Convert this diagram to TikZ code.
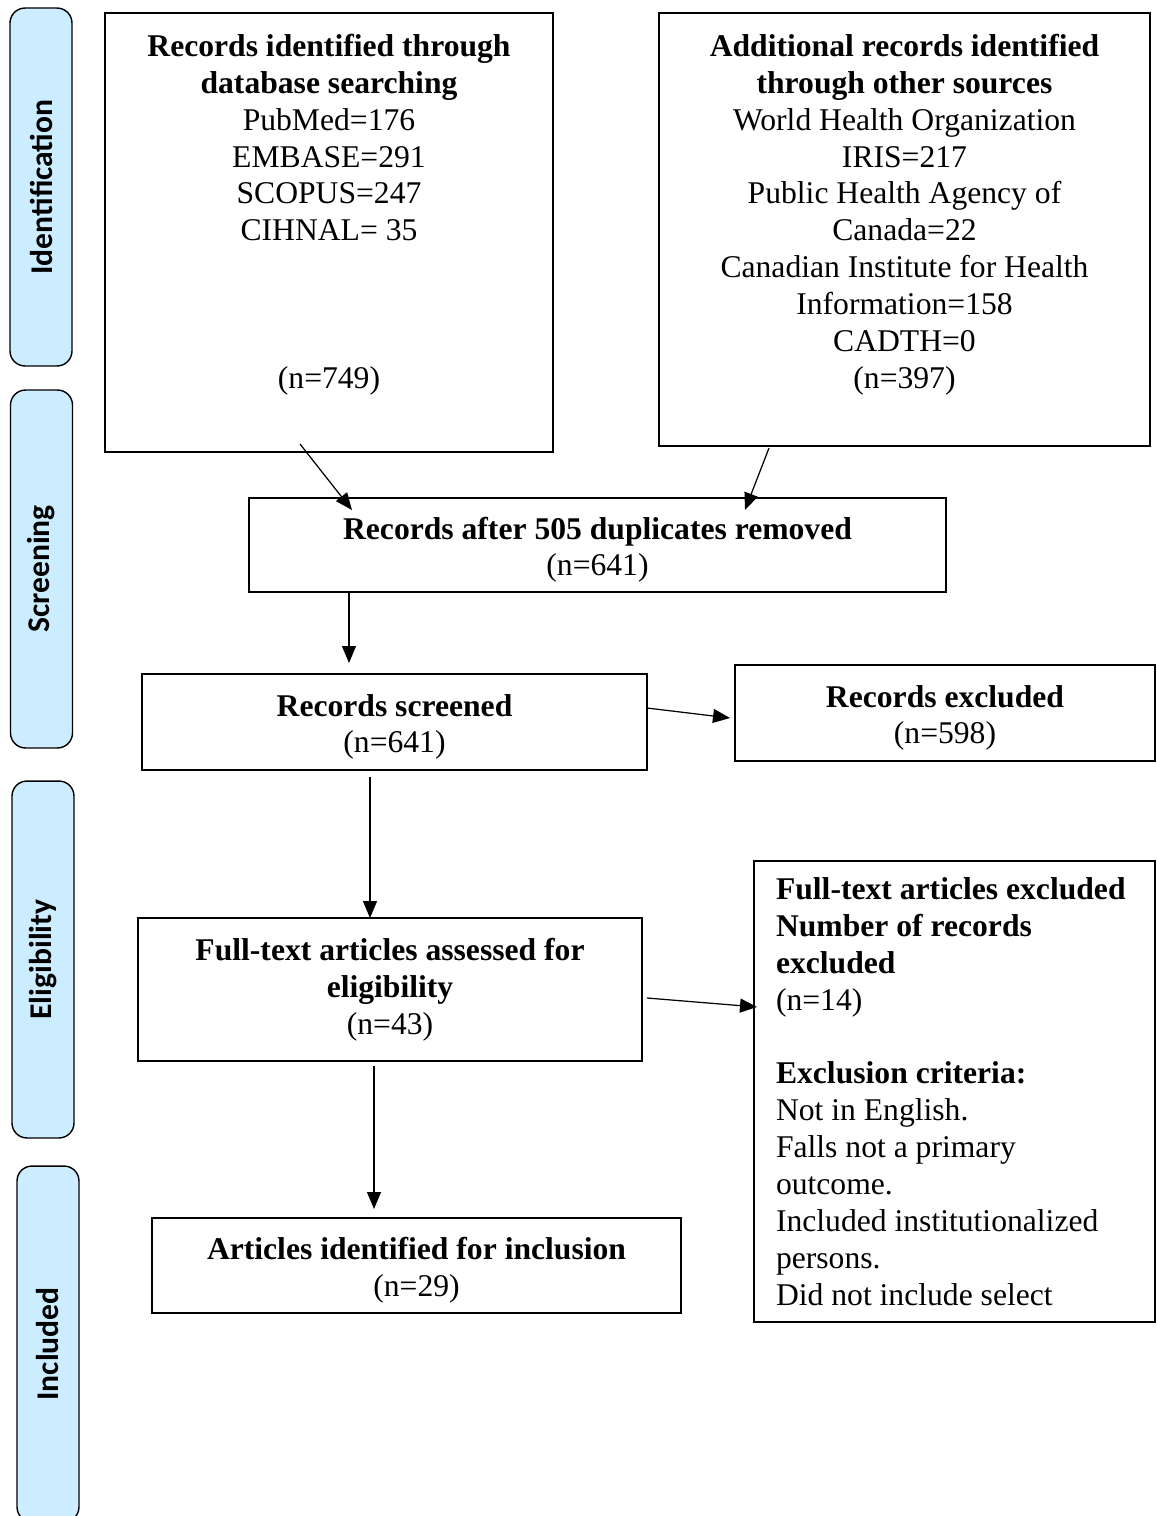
\documentclass[tikz,border=0pt]{standalone}
\usepackage{fontspec}
\setmainfont{Liberation Serif}
\newfontfamily\sidefont{Carlito}
\usetikzlibrary{arrows.meta}
\definecolor{stagefill}{RGB}{204,236,255}
\newcommand{\toprule}{\rule{0pt}{18pt}}
\tikzset{
  box/.style={draw, line width=1.3pt, inner sep=0pt, align=center},
  stage/.style={draw, line width=0.8pt, fill=stagefill, rounded corners=0.3cm, minimum height=1.24cm, rotate=90, font=\sidefont\bfseries\fontsize{18}{21}\selectfont},
  flow/.style={-{Triangle[length=0.34cm,width=0.28cm]}, line width=0.7pt},
}
\begin{document}
\begin{tikzpicture}[x=0.02cm, y=-0.02cm, font=\fontsize{18}{21}\selectfont]
  \clip (0,0) rectangle (1157,1516);

  \node[stage, minimum width=7.16cm] (ident) at (41,187) {Identification};
  \node[stage, minimum width=7.16cm] (screening) at (41.5,569) {Screening};
  \node[stage, minimum width=7.14cm] (elig) at (43,959.5) {Eligibility};
  \node[stage, minimum width=7.12cm] (included) at (48,1344) {Included};

  \node[box, anchor=north, inner ysep=0.42cm] (db) at (329,12) {\parbox[c][7.94cm][t]{8.96cm}{\centering
    \textbf{Records identified through}\\\textbf{database searching}\\PubMed=176\\EMBASE=291\\SCOPUS=247\\CIHNAL= 35\\[63pt](n=749)}};
  \node[box, anchor=north, inner ysep=0.42cm] (other) at (904.5,12) {\parbox[c][7.82cm][t]{9.82cm}{\centering
    \textbf{Additional records identified}\\\textbf{through other sources}\\World Health Organization\\IRIS=217\\Public Health Agency of\\Canada=22\\Canadian Institute for Health\\Information=158\\CADTH=0\\(n=397)}};
  \node[box, minimum width=13.94cm, minimum height=1.88cm] (dup) at (597.5,545) {\toprule\textbf{Records after 505 duplicates removed}\\(n=641)};
  \node[box, minimum width=10.1cm, minimum height=1.92cm] (screen) at (394.5,722) {\toprule\textbf{Records screened}\\(n=641)};
  \node[box, minimum width=8.4cm, minimum height=1.92cm] (excl) at (945,713) {\toprule\textbf{Records excluded}\\(n=598)};
  \node[box, minimum width=10.08cm, minimum height=2.86cm] (full) at (390,989.5) {\textbf{Full-text articles assessed for}\\\textbf{eligibility}\\(n=43)};
  \node[box, align=flush left, text width=7.14cm, inner xsep=0.44cm, minimum width=8.02cm, minimum height=9.22cm] (ftexcl) at (954.5,1091.5) {\textbf{Full-text articles excluded}\\\textbf{Number of records}\\\textbf{excluded}\\(n=14)\\[21pt]\textbf{Exclusion criteria:}\\Not in English.\\Falls not a primary\\outcome.\\Included institutionalized\\persons.\\Did not include select};
  \node[box, minimum width=10.58cm, minimum height=1.9cm] (incl) at (416.5,1265.5) {\toprule\textbf{Articles identified for inclusion}\\(n=29)};

  \coordinate (dbout) at (300,444);
  \coordinate (dupin1) at (352,510);
  \coordinate (otherout) at (769,448);
  \coordinate (dupin2) at (745,510);
  \coordinate (dupout) at (349,592);
  \coordinate (screenin) at (349,663);
  \coordinate (screenout) at (647,708);
  \coordinate (exclin) at (730,718);
  \coordinate (screendown) at (370,777);
  \coordinate (fullin) at (370,918);
  \coordinate (fullout) at (647,998);
  \coordinate (ftexclin) at (757,1007);
  \coordinate (fulldown) at (374,1066);
  \coordinate (inclin) at (374,1209);

  \draw[flow] (dbout) to (dupin1);
  \draw[flow] (otherout) to (dupin2);
  \draw[flow] (dupout) to (screenin);
  \draw[flow] (screenout) to (exclin);
  \draw[flow] (screendown) to (fullin);
  \draw[flow] (fullout) to (ftexclin);
  \draw[flow] (fulldown) to (inclin);
\end{tikzpicture}
\end{document}
